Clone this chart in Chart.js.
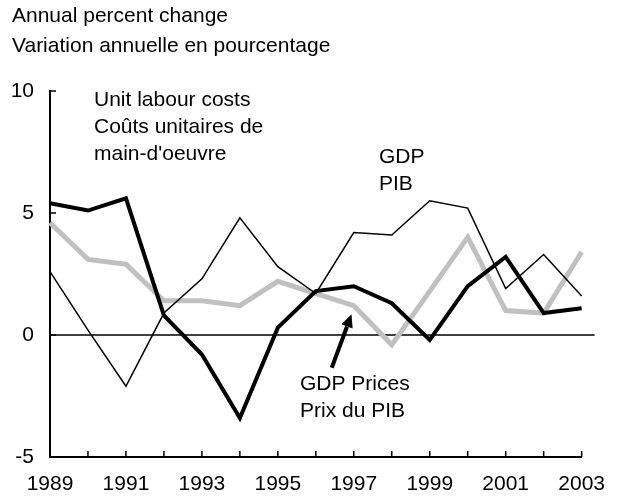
<!DOCTYPE html>
<html>
<head>
<meta charset="utf-8">
<script src="https://cdn.jsdelivr.net/npm/chart.js@4.4.1/dist/chart.umd.min.js"></script>
<style>
  html, body { margin: 0; padding: 0; background: #fff; }
  #wrap { width: 620px; height: 498px; position: relative; }
</style>
</head>
<body>
<div id="wrap"><canvas id="chart"></canvas></div>
<script>
// --- DATA ---
const years = ['1989', '1990', '1991', '1992', '1993', '1994', '1995', '1996', '1997', '1998', '1999', '2000', '2001', '2002', '2003'];
const gdp = [2.6, 0.2, -2.1, 0.9, 2.3, 4.8, 2.8, 1.7, 4.2, 4.1, 5.5, 5.2, 1.9, 3.3, 1.6];
const unitLabourCosts = [5.4, 5.1, 5.6, 0.8, -0.8, -3.4, 0.3, 1.8, 2.0, 1.3, -0.2, 2.0, 3.2, 0.9, 1.1];
const gdpPrices = [4.6, 3.1, 2.9, 1.4, 1.4, 1.2, 2.2, 1.7, 1.2, -0.4, 1.8, 4.0, 1.0, 0.9, 3.4];
const yTicks = [-5, 0, 5, 10];

const FONT = "'Liberation Sans', Arial, sans-serif";
const TXT = 21;

// arrow pointing at the GDP prices line, in data units (category index, value)
const arrowTail = { x: 7.42, y: -1.34 };
const arrowHead = { x: 7.94, y: 0.85 };

const overlay = {
    id: 'overlay',
    beforeDatasetsDraw(chart) {
        const { ctx, chartArea: a, scales: { x, y } } = chart;
        ctx.save();
        ctx.strokeStyle = '#000';
        // zero line, runs a bit past the last year
        const y0 = y.getPixelForValue(0);
        ctx.lineWidth = 1.5;
        ctx.beginPath();
        ctx.moveTo(a.left, y0);
        ctx.lineTo(a.right + 13, y0);
        ctx.stroke();
        // inward tick marks
        yTicks.forEach(v => {
            const py = y.getPixelForValue(v);
            ctx.beginPath();
            ctx.moveTo(a.left, py);
            ctx.lineTo(a.left + 6, py);
            ctx.stroke();
        });
        years.forEach((_, i) => {
            const px = x.getPixelForValue(i);
            ctx.beginPath();
            ctx.moveTo(px, a.bottom);
            ctx.lineTo(px, a.bottom - 6);
            ctx.stroke();
        });
        ctx.restore();
    },
    afterDraw(chart) {
        const { ctx, scales: { x, y } } = chart;
        ctx.save();
        ctx.fillStyle = '#000';
        ctx.font = TXT + 'px ' + FONT;
        ctx.textBaseline = 'alphabetic';
        const put = (lines, px, py, gap) => lines.forEach((t, i) => ctx.fillText(t, px, py + i * gap));
        put(['Annual percent change', 'Variation annuelle en pourcentage'], 12, 22, 30);
        put(['Unit labour costs', 'Coûts unitaires de', "main-d'oeuvre"], 94, 106, 27);
        put(['GDP', 'PIB'], 379, 163, 27);
        put(['GDP Prices', 'Prix du PIB'], 300, 390, 27);

        // arrow
        const tx = x.getPixelForValue(arrowTail.x), ty = y.getPixelForValue(arrowTail.y);
        const hx = x.getPixelForValue(arrowHead.x), hy = y.getPixelForValue(arrowHead.y);
        const ang = Math.atan2(hy - ty, hx - tx);
        const hl = 13, hw = 6;
        const bx = hx - hl * Math.cos(ang), by = hy - hl * Math.sin(ang);
        ctx.strokeStyle = '#000';
        ctx.lineWidth = 4;
        ctx.beginPath();
        ctx.moveTo(tx, ty);
        ctx.lineTo(bx, by);
        ctx.stroke();
        ctx.beginPath();
        ctx.moveTo(hx, hy);
        ctx.lineTo(bx + hw * Math.sin(ang), by - hw * Math.cos(ang));
        ctx.lineTo(bx - hw * Math.sin(ang), by + hw * Math.cos(ang));
        ctx.closePath();
        ctx.fill();
        ctx.restore();
    }
};

new Chart(document.getElementById('chart'), {
    type: 'line',
    data: {
        labels: years,
        datasets: [
            { label: 'GDP', data: gdp, borderColor: '#000', borderWidth: 1.5 },
            { label: 'Unit labour costs', data: unitLabourCosts, borderColor: '#000', borderWidth: 4 },
            { label: 'GDP Prices', data: gdpPrices, borderColor: '#c0c0c0', borderWidth: 5 }
        ]
    },
    options: {
        responsive: true,
        maintainAspectRatio: false,
        animation: false,
        layout: { padding: { top: 91, right: 25, bottom: 0, left: 0 } },
        elements: { point: { radius: 0 }, line: { tension: 0, borderJoinStyle: 'miter', borderCapStyle: 'butt' } },
        plugins: { legend: { display: false }, tooltip: { enabled: false } },
        scales: {
            x: {
                type: 'category',
                offset: false,
                grid: { display: false, drawTicks: false },
                border: { display: true, color: '#000', width: 2 },
                ticks: {
                    autoSkip: false, maxRotation: 0, color: '#000', padding: 15,
                    font: { family: FONT, size: TXT },
                    callback: (v, i) => (i % 2 === 0 ? years[i] : '')
                },
                afterFit: s => { s.height = 41; }
            },
            y: {
                min: -5, max: 10,
                grid: { display: false, drawTicks: false },
                border: { display: true, color: '#000', width: 2 },
                ticks: {
                    stepSize: 5, color: '#000', padding: 16,
                    font: { family: FONT, size: TXT }
                },
                afterFit: s => { s.width = 50; }
            }
        }
    },
    plugins: [overlay]
});
</script>
</body>
</html>
